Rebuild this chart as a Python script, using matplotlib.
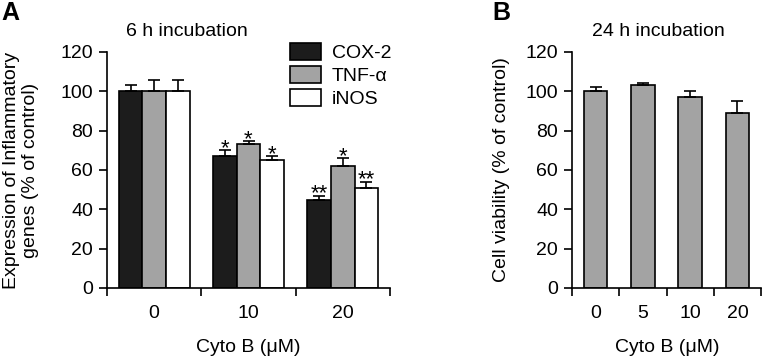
import numpy as np
import matplotlib.pyplot as plt

plt.rcParams['font.family'] = ['Liberation Sans', 'DejaVu Sans']
plt.rcParams['font.size'] = 14

# Panel A: Expression nach 6 h
doses_a = ['0', '10', '20']
genes = ['COX-2', 'TNF-α', 'iNOS']
cox2 = [100, 67, 45]
cox2_err = [3, 3, 2]
tnf = [100, 73, 62]
tnf_err = [6, 1.7, 4]
inos = [100, 65, 51]
inos_err = [6, 2, 3]
stars_cox2 = ['', '*', '**']
stars_tnf = ['', '*', '*']
stars_inos = ['', '*', '**']

# Panel B: Viabilität nach 24 h
doses_b = ['0', '5', '10', '20']
viab = [100, 103, 97, 89]
viab_err = [2, 1.2, 3, 6]

W, H = 762, 357
lw = 1.2

fig = plt.figure(figsize=(W / 100, H / 100), dpi=100)
axA = fig.add_axes([107 / W, 1 - 288 / H, (390 - 107) / W, (288 - 52) / H])
axB = fig.add_axes([572 / W, 1 - 288 / H, (761 - 572) / W, (288 - 52) / H])


def style(ax, labels):
    n = len(labels)
    ax.spines[['top', 'right']].set_visible(False)
    for s in ['left', 'bottom']:
        ax.spines[s].set_linewidth(lw)
    ax.set_ylim(0, 120)
    ax.set_yticks(range(0, 121, 20))
    ax.set_xlim(-0.5, n - 0.5)
    ax.set_xticks(range(n))
    ax.set_xticklabels(labels)
    ax.set_xticks(np.arange(-0.5, n), minor=True)
    ax.tick_params(axis='x', which='major', length=0, pad=12)
    ax.tick_params(axis='x', which='minor', length=6, width=lw)
    ax.tick_params(axis='y', length=6, width=lw, pad=4)


style(axA, doses_a)
style(axB, doses_b)

# Balken Panel A
x = np.arange(len(doses_a))
w = 0.25
series = [
    (cox2, cox2_err, '#1c1c1c', stars_cox2),
    (tnf, tnf_err, '#a3a3a3', stars_tnf),
    (inos, inos_err, 'white', stars_inos),
]
for i, (vals, errs, color, stars) in enumerate(series):
    pos = x + (i - 1) * w
    axA.bar(pos, vals, w, color=color, edgecolor='black', linewidth=lw,
            label=genes[i], yerr=[np.zeros(len(errs)), errs],
            error_kw=dict(ecolor='black', elinewidth=lw, capsize=4.5, capthick=lw))
    for p, v, e, s in zip(pos, vals, errs, stars):
        if s:
            axA.annotate(s, (p, v + e), xytext=(0, -2.7), textcoords='offset points',
                         ha='center', va='baseline', fontsize=16)

axA.legend(loc='upper left', bbox_to_anchor=(290 / W, 1 - 43 / H),
           bbox_transform=fig.transFigure, frameon=False, borderpad=0,
           borderaxespad=0, handlelength=1.6, handleheight=0.93,
           handletextpad=0.55, labelspacing=0.22, fontsize=14)

# Balken Panel B
xb = np.arange(len(doses_b))
axB.bar(xb, viab, 0.5, color='#a3a3a3', edgecolor='black', linewidth=lw,
        yerr=[np.zeros(len(viab_err)), viab_err],
        error_kw=dict(ecolor='black', elinewidth=lw, capsize=4.5, capthick=lw))

# Beschriftungen
fig.text(21 / W, 1 - 170 / H, 'Expression of Inflammatory\ngenes (% of control)',
         rotation=90, ha='center', va='center', linespacing=1.1)
fig.text(502 / W, 1 - 170 / H, 'Cell viability (% of control)',
         rotation=90, ha='center', va='center')
fig.text(248 / W, 1 - 347 / H, 'Cyto B (μM)', ha='center', va='center')
fig.text(667 / W, 1 - 347 / H, 'Cyto B (μM)', ha='center', va='center')
fig.text(187 / W, 1 - 32 / H, '6 h incubation', ha='center', va='center', fontsize=14)
fig.text(658 / W, 1 - 32 / H, '24 h incubation', ha='center', va='center', fontsize=14)
fig.text(1 / W, 1 - 1 / H, 'A', ha='left', va='top', fontsize=18, fontweight='bold')
fig.text(492 / W, 1 - 1 / H, 'B', ha='left', va='top', fontsize=18, fontweight='bold')

fig.savefig('out.png', dpi=100)
